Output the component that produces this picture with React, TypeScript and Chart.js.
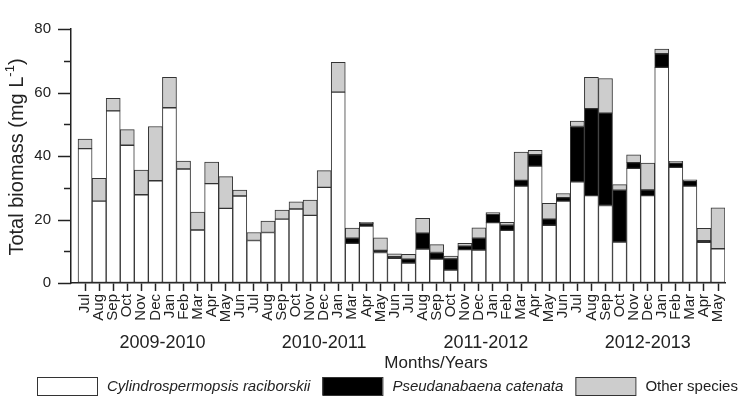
import React, { useEffect, useRef } from 'react';
import { Chart, registerables } from 'chart.js';

Chart.register(...registerables);

const FONT = "'Liberation Sans', Arial, sans-serif";

const months = [
  'Jul', 'Aug', 'Sep', 'Oct', 'Nov', 'Dec', 'Jan', 'Feb', 'Mar', 'Apr', 'May', 'Jun',
  'Jul', 'Aug', 'Sep', 'Oct', 'Nov', 'Dec', 'Jan', 'Mar', 'Apr', 'May', 'Jun',
  'Jul', 'Aug', 'Sep', 'Oct', 'Nov', 'Dec', 'Jan', 'Feb', 'Mar', 'Apr', 'May', 'Jun',
  'Jul', 'Aug', 'Sep', 'Oct', 'Nov', 'Dec', 'Jan', 'Feb', 'Mar', 'Apr', 'May',
];

const seasons = ['2009-2010', '2010-2011', '2011-2012', '2012-2013'];

const cylindrospermopsis = [
  42.3, 25.8, 54.2, 43.4, 27.8, 32.2, 55.2, 35.9, 16.7, 31.3, 23.5, 27.4,
  13.4, 15.9, 20.1, 23.3, 21.3, 30.1, 60.1, 12.5, 17.9, 9.6, 7.8,
  6.3, 10.7, 7.5, 4.1, 10.5, 10.4, 19.0, 16.6, 30.5, 36.8, 18.2, 25.8,
  31.9, 27.5, 24.4, 12.9, 36.1, 27.5, 67.9, 36.4, 30.5, 12.8, 10.8,
];

const pseudanabaena = [
  0, 0, 0, 0, 0, 0, 0, 0, 0, 0, 0, 0,
  0, 0, 0, 0, 0, 0, 0, 1.6, 0.8, 0.7, 0.5,
  1.2, 5.0, 2.1, 3.5, 1.1, 3.7, 2.6, 1.6, 1.8, 3.6, 1.9, 1.1,
  17.4, 27.4, 29.1, 16.3, 1.8, 1.8, 4.3, 1.4, 1.7, 0.5, 0,
];

const otherSpecies = [
  3.0, 7.2, 4.0, 4.9, 7.8, 17.1, 9.6, 2.5, 5.6, 6.8, 10.0, 1.9,
  2.5, 3.6, 2.9, 2.3, 4.8, 5.3, 9.4, 3.2, 0.4, 3.9, 0.9,
  1.5, 4.7, 2.5, 0.9, 0.9, 3.3, 0.6, 0.9, 8.9, 1.4, 5.0, 1.3,
  1.7, 9.9, 10.9, 1.8, 2.5, 8.5, 1.5, 0.5, 0.3, 3.9, 12.9,
];

const yTicks = [0, 10, 20, 30, 40, 50, 60, 70, 80];

const seriesNames = ['Cylindrospermopsis raciborskii', 'Pseudanabaena catenata', 'Other species'];
const seriesColors = ['#ffffff', '#000000', '#cdcdcd'];
const seriesItalic = [true, true, false];

const toPoints = (arr: number[]) => arr.map((v, i) => ({ x: i, y: v === 0 ? null : v }));

// season groups: a new season starts at each 'Jul'
const seasonRanges = (() => {
  const r: { start: number; end: number }[] = [];
  months.forEach((m, i) => {
    if (m === 'Jul') r.push({ start: i, end: i });
    else r[r.length - 1].end = i;
  });
  return r;
})();

const extrasPlugin = {
  id: 'extras',
  afterDraw(chart: any) {
    const ctx = chart.ctx as CanvasRenderingContext2D;
    const xs = chart.scales.x;
    const ys = chart.scales.y;
    const left = chart.chartArea.left;
    ctx.save();
    // y tick marks (major + minor)
    ctx.strokeStyle = '#222';
    ctx.lineWidth = 1.5;
    yTicks.forEach((v) => {
      const y = Math.round(ys.getPixelForValue(v)) + 0.5;
      const len = v % 20 === 0 ? 13 : 7;
      ctx.beginPath();
      ctx.moveTo(left - len, y);
      ctx.lineTo(left, y);
      ctx.stroke();
    });
    // season labels
    ctx.fillStyle = '#222';
    ctx.font = `18px ${FONT}`;
    ctx.textAlign = 'center';
    ctx.textBaseline = 'middle';
    seasonRanges.forEach((r, i) => {
      const cx = (xs.getPixelForValue(r.start) + xs.getPixelForValue(r.end)) / 2;
      ctx.fillText(seasons[i], cx, 343);
    });
    // x title
    ctx.font = `17px ${FONT}`;
    ctx.fillText('Months/Years', 436, 363);
    // y title with superscript
    ctx.save();
    ctx.translate(17, 157);
    ctx.rotate(-Math.PI / 2);
    const main = 'Total biomass (mg L';
    const sup = '-1';
    const close = ')';
    ctx.font = `20px ${FONT}`;
    const w1 = ctx.measureText(main).width;
    const w3 = ctx.measureText(close).width;
    ctx.font = `13px ${FONT}`;
    const w2 = ctx.measureText(sup).width;
    const total = w1 + w2 + w3;
    const x0 = -total / 2;
    ctx.textAlign = 'left';
    ctx.font = `20px ${FONT}`;
    ctx.fillText(main, x0, 0);
    ctx.font = `13px ${FONT}`;
    ctx.fillText(sup, x0 + w1, -7);
    ctx.font = `20px ${FONT}`;
    ctx.fillText(close, x0 + w1 + w2, 0);
    ctx.restore();
    // legend
    let lx = 37;
    const ly = 377;
    ctx.textAlign = 'left';
    ctx.textBaseline = 'middle';
    seriesNames.forEach((name, i) => {
      ctx.fillStyle = seriesColors[i];
      ctx.fillRect(lx, ly, 60, 18);
      ctx.strokeStyle = '#333';
      ctx.lineWidth = 1;
      ctx.strokeRect(lx + 0.5, ly + 0.5, 60, 18);
      ctx.fillStyle = '#222';
      ctx.font = `${seriesItalic[i] ? 'italic ' : ''}15px ${FONT}`;
      const tx = lx + 70;
      ctx.fillText(name, tx, ly + 9.5);
      lx = tx + ctx.measureText(name).width + 12;
    });
    ctx.restore();
  },
};

export default function App() {
  const ref = useRef<HTMLCanvasElement>(null);
  useEffect(() => {
    if (!ref.current) return;
    const data = [cylindrospermopsis, pseudanabaena, otherSpecies];
    const chart = new Chart(ref.current, {
      type: 'bar',
      data: {
        datasets: data.map((arr, i) => ({
          label: seriesNames[i],
          data: toPoints(arr) as any,
          backgroundColor: seriesColors[i],
          borderColor: '#333',
          borderWidth: 1,
          borderSkipped: false,
          barPercentage: 1,
          categoryPercentage: 1,
        })),
      },
      options: {
        responsive: false,
        animation: false,
        layout: { padding: { top: 13, right: 0, left: 0, bottom: 0 } },
        plugins: { legend: { display: false }, tooltip: { enabled: false } },
        scales: {
          x: {
            type: 'linear',
            stacked: true,
            offset: false,
            min: -1,
            max: months.length - 0.5,
            afterFit: (s: any) => { s.height = 115; },
            afterBuildTicks: (s: any) => {
              s.ticks = s.ticks.filter((t: any) => Number.isInteger(t.value) && t.value >= 0 && t.value < months.length);
            },
            ticks: {
              stepSize: 1,
              includeBounds: false,
              autoSkip: false,
              maxRotation: 90,
              minRotation: 90,
              padding: 3,
              color: '#222',
              font: { family: FONT, size: 15 },
              callback: (v: any) => months[v] ?? '',
            },
            grid: { offset: false, drawOnChartArea: false, drawTicks: true, tickLength: 8, color: '#222', tickWidth: 1.5 },
            border: { display: true, color: '#222', width: 1.5 },
          },
          y: {
            stacked: true,
            min: 0,
            max: 80,
            afterFit: (s: any) => { s.width = 71; },
            ticks: {
              stepSize: 10,
              padding: 20,
              color: '#222',
              font: { family: FONT, size: 15 },
              callback: (v: any) => (v % 20 === 0 ? String(v) : ''),
            },
            grid: { drawOnChartArea: false, drawTicks: false },
            border: { display: true, color: '#222', width: 1.5 },
          },
        },
      },
      plugins: [extrasPlugin],
    });
    return () => chart.destroy();
  }, []);
  return (
    <div style={{ position: 'absolute', left: 0, top: 0, width: 739, height: 398, background: '#fff' }}>
      <canvas ref={ref} width={739} height={398} style={{ display: 'block' }} />
    </div>
  );
}
